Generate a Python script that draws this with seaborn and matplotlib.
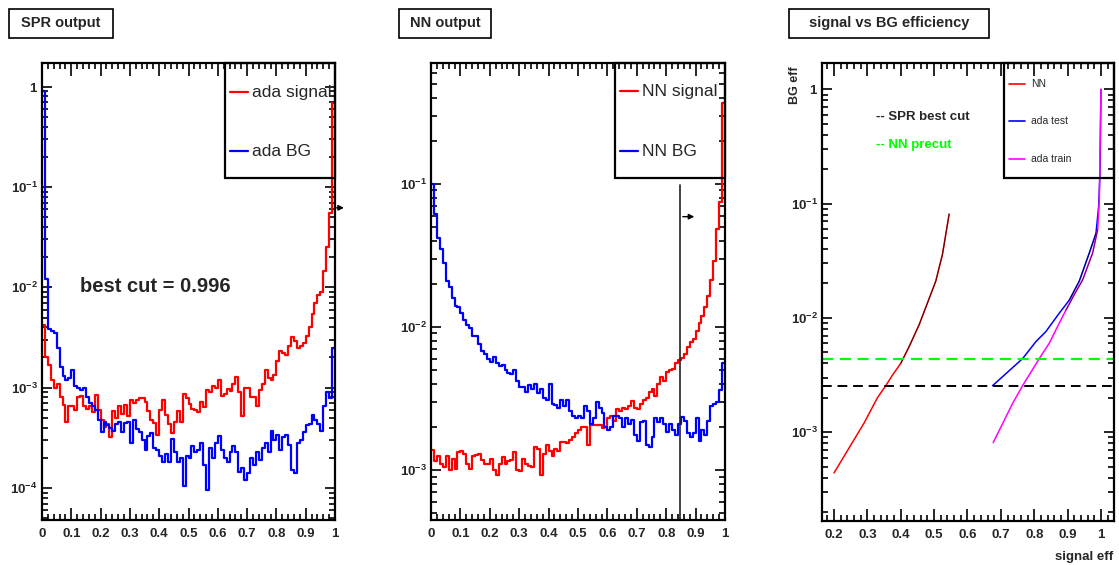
import numpy as np
import pandas as pd
import seaborn as sns
import matplotlib.pyplot as plt
from matplotlib.patches import Rectangle
from matplotlib.ticker import MultipleLocator, LogLocator, FuncFormatter, NullFormatter

# ---- data ----
n_bins = 100

ada_signal = [4.2e-3, 2.0e-3, 1.7e-3, 1.2e-3, 1.0e-3, 1.1e-3, 8e-4, 6.7e-4, 4.5e-4, 6.5e-4,
              6.6e-4, 6.0e-4, 8.0e-4, 8.2e-4, 6.5e-4, 6.2e-4, 6.6e-4, 5.7e-4, 8.4e-4, 6.0e-4,
              4.8e-4, 4.1e-4, 4.3e-4, 3.2e-4, 5.8e-4, 5.0e-4, 6.5e-4, 5.5e-4, 6.7e-4, 5.2e-4,
              7.5e-4, 7.0e-4, 7.6e-4, 7.8e-4, 7.8e-4, 7.2e-4, 5.8e-4, 4.8e-4, 4.4e-4, 3.4e-4,
              6.0e-4, 7.5e-4, 5.3e-4, 4.3e-4, 3.5e-4, 4.5e-4, 5.8e-4, 4.5e-4, 8.7e-4, 7.8e-4,
              6.8e-4, 6.2e-4, 6.0e-4, 5.7e-4, 7.2e-4, 6.4e-4, 9.4e-4, 9.0e-4, 1.05e-3, 1.0e-3,
              1.2e-3, 8.3e-4, 8.7e-4, 9.6e-4, 9.2e-4, 1.1e-3, 1.27e-3, 9.0e-4, 5.2e-4, 1.0e-3,
              1.0e-3, 8.0e-4, 8.0e-4, 6.5e-4, 9.5e-4, 1.1e-3, 1.5e-3, 1.25e-3, 1.2e-3, 1.35e-3,
              1.85e-3, 2.3e-3, 2.2e-3, 2.1e-3, 2.6e-3, 3.2e-3, 2.9e-3, 2.5e-3, 2.6e-3, 2.8e-3,
              3.3e-3, 4.0e-3, 5.4e-3, 7.0e-3, 8.3e-3, 9.0e-3, 0.0145, 0.025, 0.055, 0.69]

ada_bg = [0.9, 0.012, 3.8e-3, 3.7e-3, 3.5e-3, 2.5e-3, 1.6e-3, 1.3e-3, 1.2e-3, 1.25e-3,
          1.5e-3, 1.05e-3, 1.0e-3, 9.5e-4, 1.0e-3, 8e-4, 7e-4, 6.5e-4, 6e-4, 4.8e-4,
          3.6e-4, 4.6e-4, 4.2e-4, 4.0e-4, 3.7e-4, 4.3e-4, 4.6e-4, 3.6e-4, 4.4e-4, 4.6e-4,
          2.8e-4, 4.8e-4, 3.9e-4, 3.6e-4, 3.0e-4, 2.4e-4, 3.3e-4, 3.5e-4, 2.5e-4, 2.4e-4,
          2.1e-4, 1.8e-4, 2.2e-4, 1.8e-4, 3.1e-4, 2.3e-4, 1.8e-4, 2.0e-4, 1.05e-4, 2.1e-4,
          2.0e-4, 2.6e-4, 2.3e-4, 2.4e-4, 2.8e-4, 1.7e-4, 9.5e-5, 2.5e-4, 2.0e-4, 2.8e-4,
          3.3e-4, 2.4e-4, 2.0e-4, 1.8e-4, 2.3e-4, 2.6e-4, 2.3e-4, 1.45e-4, 1.6e-4, 1.2e-4,
          1.4e-4, 2.0e-4, 1.7e-4, 2.3e-4, 1.9e-4, 2.5e-4, 2.8e-4, 2.3e-4, 3.7e-4, 3.0e-4,
          3.4e-4, 2.4e-4, 3.2e-4, 3.4e-4, 2.7e-4, 1.5e-4, 1.4e-4, 2.8e-4, 3.0e-4, 3.6e-4,
          4.2e-4, 4.3e-4, 5.4e-4, 4.8e-4, 4.3e-4, 3.7e-4, 6.5e-4, 9.0e-4, 7.8e-4, 2.5e-3]

nn_signal = [1.38e-3, 1.15e-3, 1.25e-3, 1.1e-3, 1.05e-3, 1.25e-3, 1.0e-3, 1.2e-3, 1.02e-3, 1.33e-3,
             1.35e-3, 1.3e-3, 1.1e-3, 1.02e-3, 1.25e-3, 1.28e-3, 1.3e-3, 1.17e-3, 1.1e-3, 1.1e-3,
             1.2e-3, 1.0e-3, 9.2e-4, 1.1e-3, 1.24e-3, 1.1e-3, 1.15e-3, 1.18e-3, 1.33e-3, 1.0e-3,
             9.8e-4, 1.2e-3, 1.1e-3, 1.07e-3, 1.05e-3, 1.45e-3, 1.4e-3, 9.2e-4, 1.3e-3, 1.5e-3,
             1.35e-3, 1.25e-3, 1.4e-3, 1.36e-3, 1.58e-3, 1.58e-3, 1.55e-3, 1.62e-3, 1.71e-3, 1.8e-3,
             1.9e-3, 2.0e-3, 2.0e-3, 1.5e-3, 2.05e-3, 2.05e-3, 2.05e-3, 2.05e-3, 1.95e-3, 2.0e-3,
             2.3e-3, 2.4e-3, 2.2e-3, 2.65e-3, 2.6e-3, 2.7e-3, 2.68e-3, 2.78e-3, 3.05e-3, 2.7e-3,
             2.65e-3, 2.9e-3, 3.1e-3, 3.2e-3, 3.5e-3, 3.7e-3, 3.3e-3, 4.0e-3, 4.5e-3, 4.2e-3,
             4.85e-3, 5.0e-3, 5.1e-3, 5.56e-3, 5.9e-3, 6.05e-3, 6.5e-3, 7.2e-3, 7.9e-3, 8.3e-3,
             9.4e-3, 0.0106, 0.0119, 0.0138, 0.0165, 0.0213, 0.029, 0.048, 0.075, 0.37]

nn_bg = [0.1, 0.062, 0.042, 0.035, 0.028, 0.021, 0.019, 0.016, 0.014, 0.0137,
         0.0125, 0.0112, 0.0103, 0.0098, 8.6e-3, 8.6e-3, 7.6e-3, 6.8e-3, 6.5e-3, 6.0e-3,
         5.7e-3, 6.2e-3, 5.6e-3, 5.3e-3, 5.4e-3, 5.0e-3, 4.8e-3, 4.7e-3, 5.0e-3, 4.2e-3,
         3.83e-3, 3.8e-3, 3.5e-3, 3.9e-3, 3.7e-3, 4.0e-3, 3.45e-3, 3.7e-3, 3.2e-3, 3.1e-3,
         4.0e-3, 2.9e-3, 2.85e-3, 2.7e-3, 3.1e-3, 2.8e-3, 3.1e-3, 2.6e-3, 2.4e-3, 2.3e-3,
         2.4e-3, 2.3e-3, 2.8e-3, 2.6e-3, 2.1e-3, 2.3e-3, 3.0e-3, 2.7e-3, 2.5e-3, 2.0e-3,
         1.9e-3, 2.0e-3, 2.4e-3, 2.4e-3, 2.3e-3, 2.0e-3, 2.3e-3, 2.1e-3, 2.25e-3, 1.75e-3,
         1.6e-3, 2.15e-3, 2.2e-3, 1.5e-3, 1.45e-3, 1.7e-3, 2.3e-3, 2.15e-3, 2.3e-3, 2.1e-3,
         1.85e-3, 2.1e-3, 1.9e-3, 1.75e-3, 2.1e-3, 2.35e-3, 2.2e-3, 1.8e-3, 1.7e-3, 1.8e-3,
         2.3e-3, 1.6e-3, 1.9e-3, 1.75e-3, 2.2e-3, 2.8e-3, 2.9e-3, 3.0e-3, 3.6e-3, 5.6e-3]

spr_best_cut = 0.996
spr_arrow_y = 0.062
nn_cut = 0.847
nn_line_top = 0.098
nn_arrow_y = 0.059

# signal vs BG efficiency curves
nn_sig_eff = [0.20, 0.29, 0.33, 0.355, 0.375, 0.40, 0.425, 0.455, 0.48, 0.505, 0.525, 0.535, 0.545]
nn_bg_eff = [4.4e-4, 1.2e-3, 2.0e-3, 2.55e-3, 3.15e-3, 4.0e-3, 5.6e-3, 8.7e-3, 0.0135, 0.021, 0.036, 0.054, 0.081]
ada_test_sig = [0.675, 0.765, 0.805, 0.835, 0.875, 0.905, 0.935, 0.965, 0.985, 0.993, 0.997, 1.0]
ada_test_bg = [2.55e-3, 4.4e-3, 6.2e-3, 7.6e-3, 0.011, 0.0143, 0.021, 0.037, 0.055, 0.094, 0.185, 1.0]
ada_train_sig = [0.677, 0.735, 0.765, 0.815, 0.845, 0.875, 0.895, 0.92, 0.945, 0.975, 0.99, 0.995, 1.0]
ada_train_bg = [8.1e-4, 1.78e-3, 2.55e-3, 4.4e-3, 6.0e-3, 9.0e-3, 0.0117, 0.016, 0.0215, 0.037, 0.059, 0.107, 1.0]
spr_best_bg = 2.55e-3
nn_precut_bg = 4.4e-3

# ---- style ----
sns.set_style("ticks")
plt.rcParams["font.family"] = ["Liberation Sans", "DejaVu Sans"]
plt.rcParams["font.weight"] = "bold"
plt.rcParams["mathtext.fontset"] = "custom"
plt.rcParams["mathtext.bf"] = "Liberation Sans:bold"
plt.rcParams["mathtext.rm"] = "Liberation Sans:bold"

W, H = 1119, 565
fig = plt.figure(figsize=(W / 100, H / 100), dpi=100)


def px(x, y):
    return x / W, 1 - y / H


def log_fmt(v, pos):
    e = int(round(np.log10(v)))
    if e == 0:
        return r"$\mathbf{1}$"
    return r"$\mathbf{10^{%d}}$" % e


def style_axis(ax):
    ax.set_yscale("log")
    ax.xaxis.set_major_locator(MultipleLocator(0.1))
    ax.xaxis.set_minor_locator(MultipleLocator(0.02))
    ax.xaxis.set_major_formatter(FuncFormatter(lambda v, p: "%g" % round(v, 2)))
    ax.yaxis.set_major_locator(LogLocator(base=10, numticks=20))
    ax.yaxis.set_minor_locator(LogLocator(base=10, subs=np.arange(2, 10), numticks=20))
    ax.yaxis.set_major_formatter(FuncFormatter(log_fmt))
    ax.yaxis.set_minor_formatter(NullFormatter())
    ax.tick_params(which="both", direction="in", top=True, right=True, width=1.2, color="black")
    ax.tick_params(axis="x", which="major", length=9, pad=6, labelsize=9.5)
    ax.tick_params(axis="x", which="minor", length=4)
    ax.tick_params(axis="y", which="major", length=7.5, pad=3, labelsize=9.5)
    ax.tick_params(axis="y", which="minor", length=4)
    for s in ax.spines.values():
        s.set_linewidth(1.6)
        s.set_color("black")
    ax.set_xlabel("")
    ax.set_ylabel("")


def legend_box(ax, x0, y0):
    ax.add_patch(Rectangle((x0, y0), 1 - x0, 1 - y0, transform=ax.transAxes,
                           fill=False, lw=1.6, ec="black", clip_on=False, zorder=5))


def legend_entry(ax, x0, x1, xt, y, color, label, size, lw):
    ax.plot([x0, x1], [y, y], transform=ax.transAxes, color=color, lw=lw, clip_on=False, zorder=6)
    t = ax.text(xt, y, label, transform=ax.transAxes, fontsize=size, fontweight="normal",
                va="center", ha="left", zorder=6)
    t.set_clip_path(ax.patch)


def title_box(x0, x1, text):
    fig.add_artist(Rectangle(px(x0, 38), (x1 - x0) / W, 29 / H, transform=fig.transFigure,
                             fill=False, lw=1.2, ec="black"))
    fig.text(*px((x0 + x1) / 2, 23.5), text, fontsize=10.5, fontweight="bold",
             ha="center", va="center")


centers = (np.arange(n_bins) + 0.5) / n_bins
hist_df = pd.DataFrame({"x": centers, "ada_signal": ada_signal, "ada_bg": ada_bg,
                        "nn_signal": nn_signal, "nn_bg": nn_bg})

# ---- panel 1: SPR output ----
ax1 = fig.add_axes([42 / W, 45 / H, 293 / W, 457 / H])
sns.histplot(data=hist_df, x="x", weights="ada_signal", bins=n_bins, binrange=(0, 1),
             element="step", fill=False, color="#ff0000", linewidth=1.6, ax=ax1)
sns.histplot(data=hist_df, x="x", weights="ada_bg", bins=n_bins, binrange=(0, 1),
             element="step", fill=False, color="#0000ff", linewidth=1.6, ax=ax1)
style_axis(ax1)
ax1.set_xlim(0, 1)
ax1.set_ylim(4.8e-5, 1.72)
ax1.annotate("", xy=(1.04, spr_arrow_y), xytext=(spr_best_cut, spr_arrow_y),
             arrowprops=dict(arrowstyle="-|>", lw=1.0, color="black", mutation_scale=8),
             annotation_clip=False)
ax1.text(0.1297, 0.51, "best cut = 0.996", transform=ax1.transAxes, fontsize=14.5,
         fontweight="bold", va="center", ha="left")
legend_box(ax1, 0.6246, 0.7484)
legend_entry(ax1, 0.6416, 0.703, 0.7167, 0.9365, "#ff0000", "ada signal", 12.5, 1.6)
legend_entry(ax1, 0.6416, 0.703, 0.7167, 0.8074, "#0000ff", "ada BG", 12.5, 1.6)
title_box(9, 113, "SPR output")

# ---- panel 2: NN output ----
ax2 = fig.add_axes([431 / W, 45 / H, 294 / W, 457 / H])
sns.histplot(data=hist_df, x="x", weights="nn_signal", bins=n_bins, binrange=(0, 1),
             element="step", fill=False, color="#ff0000", linewidth=1.6, ax=ax2)
sns.histplot(data=hist_df, x="x", weights="nn_bg", bins=n_bins, binrange=(0, 1),
             element="step", fill=False, color="#0000ff", linewidth=1.6, ax=ax2)
style_axis(ax2)
ax2.set_xlim(0, 1)
ax2.set_ylim(4.47e-4, 0.70)
ax2.plot([nn_cut, nn_cut], [4.47e-4, nn_line_top], color="#222222", lw=1.2)
ax2.annotate("", xy=(nn_cut + 0.058, nn_arrow_y), xytext=(nn_cut, nn_arrow_y),
             arrowprops=dict(arrowstyle="-|>", lw=1.0, color="black", mutation_scale=8))
legend_box(ax2, 0.6259, 0.7484)
legend_entry(ax2, 0.643, 0.704, 0.7177, 0.9387, "#ff0000", "NN signal", 12.5, 1.6)
legend_entry(ax2, 0.643, 0.704, 0.7177, 0.8074, "#0000ff", "NN BG", 12.5, 1.6)
title_box(399, 491, "NN output")

# ---- panel 3: signal vs BG efficiency ----
ax3 = fig.add_axes([822 / W, 44 / H, 292 / W, 458 / H])
sns.lineplot(x=nn_sig_eff, y=nn_bg_eff, sort=False, estimator=None, color="#ff0000", lw=1.1, ax=ax3)
sns.lineplot(x=ada_test_sig, y=ada_test_bg, sort=False, estimator=None, color="#0000ff", lw=1.1, ax=ax3)
sns.lineplot(x=ada_train_sig, y=ada_train_bg, sort=False, estimator=None, color="#ff00ff", lw=1.1, ax=ax3)
# darker overlay where the curves are drawn twice
sns.lineplot(x=nn_sig_eff[5:], y=nn_bg_eff[5:], sort=False, estimator=None, color="black", lw=0.8, alpha=0.6, ax=ax3)
sns.lineplot(x=ada_test_sig[5:9], y=ada_test_bg[5:9], sort=False, estimator=None, color="black", lw=0.8, alpha=0.5, ax=ax3)
sns.lineplot(x=ada_train_sig[6:11], y=ada_train_bg[6:11], sort=False, estimator=None, color="black", lw=0.8, alpha=0.5, ax=ax3)
ax3.axhline(nn_precut_bg, color="#00ff00", lw=1.6, ls=(0, (5, 3)))
ax3.axhline(spr_best_bg, color="black", lw=1.4, ls=(0, (5, 3)))
style_axis(ax3)
ax3.set_xlim(0.164, 1.039)
ax3.set_ylim(1.67e-4, 1.70)
ax3.text(0.185, 0.882, "-- SPR best cut", transform=ax3.transAxes, fontsize=9.5,
         fontweight="bold", va="center", ha="left")
ax3.text(0.185, 0.821, "-- NN precut", transform=ax3.transAxes, fontsize=9.5,
         fontweight="bold", color="#00ff00", va="center", ha="left")
legend_box(ax3, 0.6233, 0.7489)
legend_entry(ax3, 0.640, 0.695, 0.716, 0.954, "#ff0000", "NN", 7.5, 1.2)
legend_entry(ax3, 0.640, 0.695, 0.716, 0.873, "#0000ff", "ada test", 7.5, 1.2)
legend_entry(ax3, 0.640, 0.695, 0.716, 0.790, "#ff00ff", "ada train", 7.5, 1.2)
fig.text(*px(795, 66), "BG eff", rotation=90, fontsize=9, fontweight="bold", ha="center", va="top")
fig.text(*px(1113, 557), "signal eff", fontsize=9.5, fontweight="bold", ha="right", va="center")
title_box(789, 989, "signal vs BG efficiency")

fig.savefig("out.png", dpi=100, facecolor="white")
